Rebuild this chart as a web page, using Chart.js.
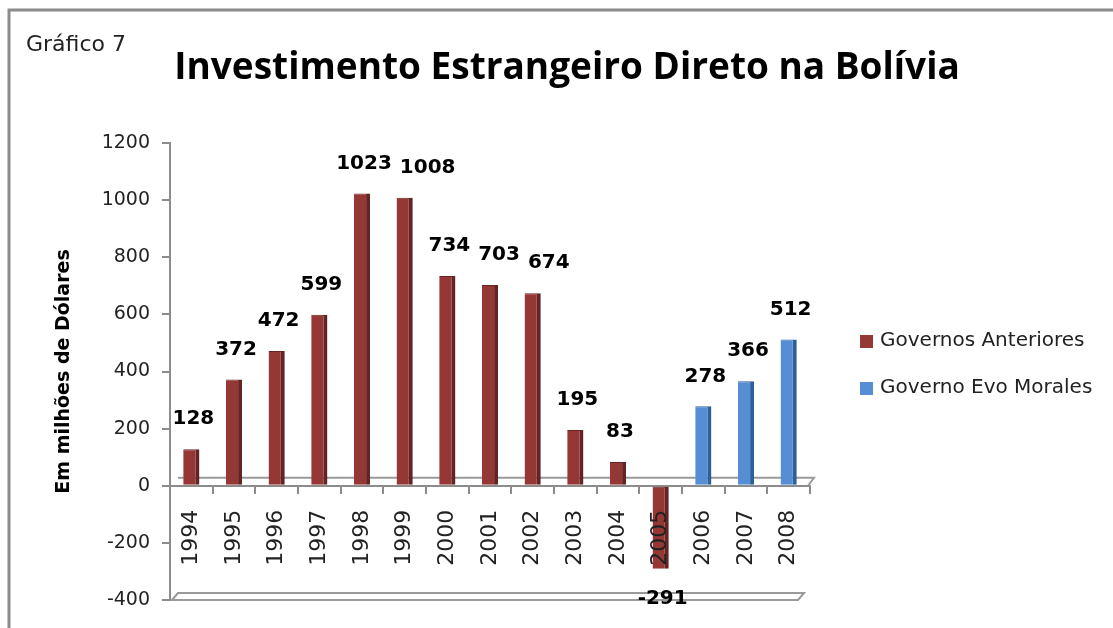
<!DOCTYPE html>
<html>
<head>
<meta charset="utf-8">
<title>Investimento Estrangeiro Direto na Bolívia</title>
<script src="https://cdn.jsdelivr.net/npm/chart.js@4"></script>
<style>
  html, body { margin: 0; padding: 0; background: #fff; }
  #wrap { width: 1113px; height: 628px; position: relative; }
</style>
</head>
<body>
<div id="wrap"><canvas id="fdiChart" width="1113" height="628"></canvas></div>
<script>
// chart data
const years = ['1994', '1995', '1996', '1997', '1998', '1999', '2000', '2001',
               '2002', '2003', '2004', '2005', '2006', '2007', '2008'];
const governosAnteriores = [128, 372, 472, 599, 1023, 1008, 734, 703, 674, 195, 83, -291,
                            null, null, null];
const governoEvoMorales = [null, null, null, null, null, null, null, null, null, null, null, null,
                           278, 366, 512];
const yTicks = [-400, -200, 0, 200, 400, 600, 800, 1000, 1200];

const FONT = '"DejaVu Sans", "Open Sans", sans-serif';
const TITLE_FONT = '"Open Sans", "DejaVu Sans", sans-serif';

// frame, 3d floor hints, caption, title, value labels and legend
const decorations = {
    id: 'decorations',
    beforeDraw(chart) {
        const ctx = chart.ctx;
        ctx.save();
        ctx.fillStyle = '#fff';
        ctx.fillRect(0, 0, chart.width, chart.height);
        ctx.strokeStyle = '#8c8c8c';
        ctx.lineWidth = 3;
        ctx.beginPath();
        ctx.moveTo(9, chart.height);
        ctx.lineTo(9, 10);
        ctx.lineTo(chart.width, 10);
        ctx.stroke();
        ctx.restore();
    },
    beforeDatasetsDraw(chart) {
        const ctx = chart.ctx;
        const area = chart.chartArea;
        const y0 = chart.scales.y.getPixelForValue(0);
        const yMin = chart.scales.y.getPixelForValue(-400);
        ctx.save();
        ctx.strokeStyle = '#9a9a9a';
        ctx.lineWidth = 2;
        // back edge of the floor
        ctx.beginPath();
        ctx.moveTo(area.left + 8, y0 - 8);
        ctx.lineTo(area.right + 4, y0 - 8);
        ctx.lineTo(area.right - 2, y0);
        ctx.stroke();
        // bottom plate
        ctx.beginPath();
        ctx.moveTo(area.left + 2, yMin);
        ctx.lineTo(area.left + 8, yMin - 7);
        ctx.lineTo(area.right - 6, yMin - 7);
        ctx.lineTo(area.right - 12, yMin);
        ctx.closePath();
        ctx.stroke();
        ctx.restore();
    },
    afterDraw(chart) {
        const ctx = chart.ctx;
        ctx.save();
        ctx.textBaseline = 'middle';

        ctx.fillStyle = '#222';
        ctx.font = '22px ' + FONT;
        ctx.textAlign = 'left';
        ctx.fillText('Gráfico 7', 26, 45);

        ctx.fillStyle = '#000';
        ctx.font = 'bold 37px ' + TITLE_FONT;
        ctx.textAlign = 'center';
        ctx.fillText('Investimento Estrangeiro Direto na Bolívia', 567, 68);

        // value labels, nudged right when they would overlap the previous one
        ctx.font = 'bold 20px ' + FONT;
        const placed = [];
        chart.data.datasets.forEach((ds, i) => {
            const meta = chart.getDatasetMeta(i);
            meta.data.forEach((bar, j) => {
                const v = ds.data[j];
                if (v === null) return;
                const txt = String(v);
                const w = ctx.measureText(txt).width;
                let x = bar.x + 2;
                const y = v >= 0 ? bar.y - 30 : bar.y + 30;
                placed.forEach(p => {
                    if (Math.abs(p.y - y) < 20 && x - w / 2 < p.x + p.w / 2 + 8) {
                        x = p.x + p.w / 2 + 8 + w / 2;
                    }
                });
                placed.push({ x, y, w });
                ctx.fillText(txt, x, y);
            });
        });

        // legend
        ctx.font = '20px ' + FONT;
        ctx.textAlign = 'left';
        chart.data.datasets.forEach((ds, i) => {
            const y = 341 + i * 47;
            ctx.fillStyle = ds.backgroundColor;
            ctx.fillRect(860, y - 6, 13, 13);
            ctx.fillStyle = '#222';
            ctx.fillText(ds.label, 880, y);
        });
        ctx.restore();
    }
};

new Chart(document.getElementById('fdiChart'), {
    type: 'bar',
    data: {
        labels: years,
        datasets: [{
            label: 'Governos Anteriores',
            data: governosAnteriores,
            backgroundColor: '#953735',
            borderColor: '#632523',
            borderWidth: { right: 4, top: 1 },
            borderSkipped: false
        }, {
            label: 'Governo Evo Morales',
            data: governoEvoMorales,
            backgroundColor: '#558ED5',
            borderColor: '#2f5f99',
            borderWidth: { right: 4, top: 1 },
            borderSkipped: false
        }]
    },
    options: {
        responsive: false,
        animation: false,
        devicePixelRatio: 1,
        layout: { padding: { left: 0, right: 303, top: 143, bottom: 28 } },
        datasets: {
            bar: { grouped: false, barPercentage: 0.38, categoryPercentage: 1 }
        },
        plugins: {
            legend: { display: false },
            tooltip: { enabled: false }
        },
        scales: {
            x: {
                position: { y: 0 },
                grid: { display: true, drawOnChartArea: false, offset: true, tickLength: 7, color: '#8c8c8c', lineWidth: 2 },
                border: { color: '#8c8c8c', width: 2 },
                ticks: {
                    z: 1,
                    minRotation: 90,
                    maxRotation: 90,
                    padding: 17,
                    color: '#222',
                    font: { family: FONT, size: 22 }
                }
            },
            y: {
                min: -400,
                max: 1200,
                afterBuildTicks(scale) {
                    scale.ticks = yTicks.map(v => ({ value: v }));
                },
                afterFit(scale) {
                    scale.width = 170;
                },
                grid: { display: true, drawOnChartArea: false, drawTicks: true, tickLength: 8, color: '#8c8c8c', lineWidth: 2 },
                border: { color: '#8c8c8c', width: 2 },
                ticks: {
                    padding: 12,
                    color: '#222',
                    font: { family: FONT, size: 19 },
                    callback: (v) => String(v)
                },
                title: {
                    display: true,
                    text: 'Em milhões de Dólares',
                    color: '#000',
                    padding: { top: 53, bottom: 0 },
                    font: { family: FONT, size: 19, weight: 'bold' }
                }
            }
        }
    },
    plugins: [decorations]
});
</script>
</body>
</html>
